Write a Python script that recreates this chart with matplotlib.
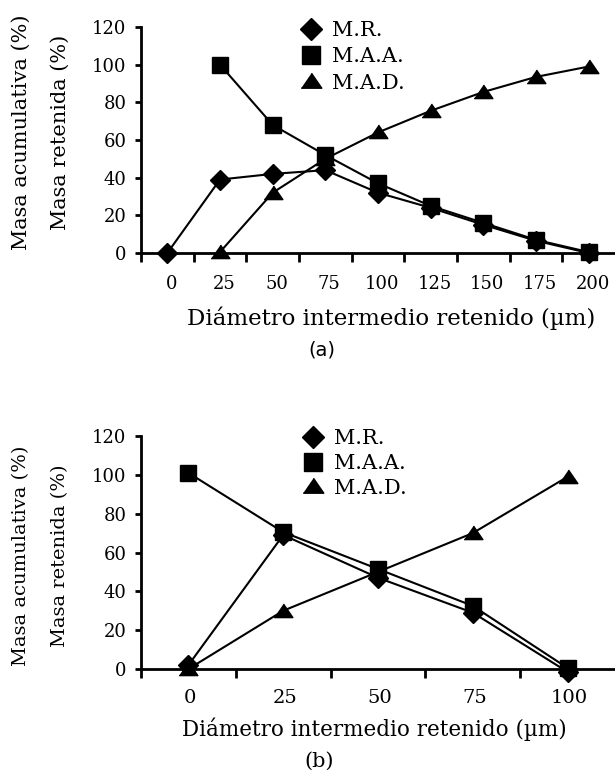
import numpy as np
import matplotlib
matplotlib.use("Agg")
import matplotlib.pyplot as plt
from matplotlib.lines import Line2D
from matplotlib.transforms import ScaledTranslation

# ---- data ----
cats_a = ["0", "25", "50", "75", "100", "125", "150", "175", "200"]
mr_a = [0, 39, 42, 44, 32, 24, 15, 6.5, 0]
maa_a = [np.nan, 100, 68, 52, 37, 25, 16, 7, 0.5]
mad_a = [np.nan, 0.5, 32, 50, 64, 75.5, 85.5, 93.5, 99]

cats_b = ["0", "25", "50", "75", "100"]
mr_b = [2, 69, 47, 29, -1.5]
maa_b = [101, 70.5, 51.5, 32.5, 0.5]
mad_b = [0, 30, 50, 70, 99]

yticks = [0, 20, 40, 60, 80, 100, 120]
series_names = ["M.R.", "M.A.A.", "M.A.D."]
xlabel = "Diámetro intermedio retenido (µm)"
ylabel1 = "Masa acumulativa (%)"
ylabel2 = "Masa retenida (%)"

SERIF = "DejaVu Serif"
W, H = 615, 774
fig = plt.figure(figsize=(W / 100, H / 100), dpi=100)

tri = [(-1, -0.65), (1, -0.65), (0, 0.8)]
mstyles = [dict(marker="D", ms=9.8), dict(marker="s", ms=12), dict(marker=tri, ms=13.5)]


def px(x, y):
    return x / W, 1 - y / H


def panel(rect, cats, series, leg_xy, leg_sp, xt_size, xt_pad, xt_shift,
          xlab_xy, xlab_size, ylab_y, ylab_size, panel_lab, panel_xy, panel_font, panel_size):
    ax = fig.add_axes(rect)
    x = np.arange(len(cats))
    for vals, st in zip(series, mstyles):
        ax.plot(x, vals, color="black", lw=1.5, mfc="black", mec="black",
                clip_on=False, zorder=3, **st)
    ax.set_xlim(-0.5, len(cats) - 0.5)
    ax.set_ylim(0, 120)
    ax.set_yticks(yticks)
    ax.set_yticklabels([str(v) for v in yticks], fontfamily=SERIF, fontsize=13)
    ax.set_xticks(x)
    ax.set_xticklabels(cats, fontfamily=SERIF, fontsize=xt_size)
    ax.set_xticks(np.arange(-0.5, len(cats) - 1, 1), minor=True)
    ax.xaxis.set_tick_params(which="minor", length=6.5, width=2, direction="out")
    ax.xaxis.set_tick_params(which="major", length=0, pad=xt_pad)
    ax.yaxis.set_tick_params(which="major", length=4.5, width=2, direction="out", pad=6)
    if xt_shift:
        off = ScaledTranslation(xt_shift / 100, 0, fig.dpi_scale_trans)
        for lab in ax.get_xticklabels():
            lab.set_transform(lab.get_transform() + off)
    for s in ["top", "right"]:
        ax.spines[s].set_visible(False)
    for s in ["left", "bottom"]:
        ax.spines[s].set_linewidth(2)
    handles = [Line2D([], [], color="black", ls="none", mfc="black", mec="black", **st)
               for st in mstyles]
    ax.legend(handles, series_names, loc="upper left", bbox_to_anchor=px(*leg_xy),
              bbox_transform=fig.transFigure, frameon=False, handlelength=1.0,
              handletextpad=0.5, labelspacing=leg_sp, borderpad=0, borderaxespad=0,
              markerscale=1.1, prop=dict(family=SERIF, size=15))
    fig.text(*px(*xlab_xy), xlabel, ha="center", va="center", fontfamily=SERIF,
             fontsize=xlab_size)
    fig.text(*px(21, ylab_y), ylabel1, rotation=90, ha="center", va="center",
             fontfamily=SERIF, fontsize=ylab_size)
    fig.text(*px(60, ylab_y), ylabel2, rotation=90, ha="center", va="center",
             fontfamily=SERIF, fontsize=ylab_size)
    fig.text(*px(*panel_xy), panel_lab, ha="center", va="center",
             fontfamily=panel_font, fontsize=panel_size)
    return ax


rect_a = [141 / W, 1 - 253 / H, (W - 141) / W, (253 - 27) / H]
rect_b = [141 / W, 1 - 669 / H, (W - 141) / W, (669 - 436) / H]

panel(rect_a, cats_a, [mr_a, maa_a, mad_a], (301, 21), 0.35, 13, 16, 4,
      (391, 318), 16.5, 132, 15, "(a)", (322, 350), "DejaVu Sans", 14)
panel(rect_b, cats_b, [mr_b, maa_b, mad_b], (303, 429), 0.28, 14, 14.5, 2,
      (374, 729), 15.5, 556, 14, "(b)", (319, 761), SERIF, 15)

fig.savefig("out.png", dpi=100)
